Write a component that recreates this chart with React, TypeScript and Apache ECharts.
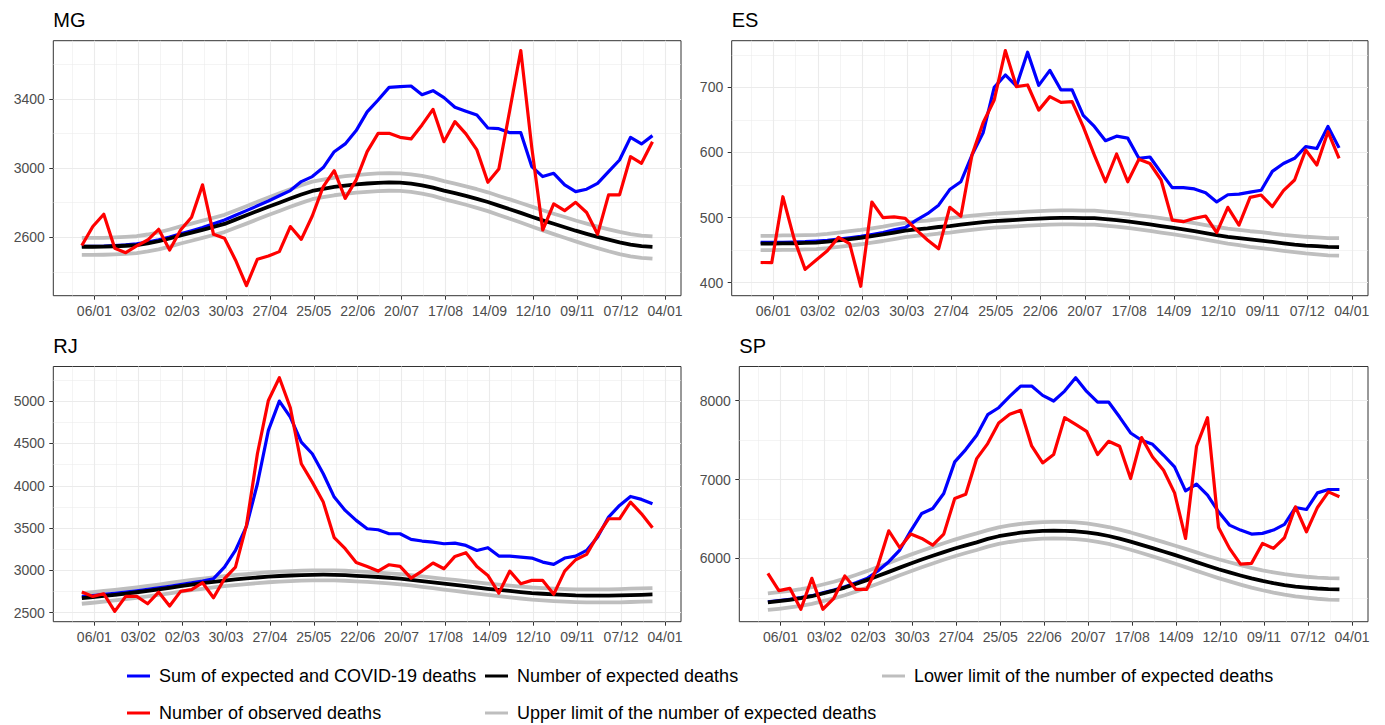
import React, { useEffect, useRef } from "react";
import * as echarts from "echarts";

// ---------- names ----------
const SUM = "Sum of expected and COVID-19 deaths";
const OBS = "Number of observed deaths";
const EXP = "Number of expected deaths";
const UP = "Upper limit of the number of expected deaths";
const LOW = "Lower limit of the number of expected deaths";

// ---------- x axis (days relative to 06/01/2020) ----------
// 53 epidemiological weeks starting 29/12/2019
const FIRST_WEEK_DAY = -8;
const N_WEEKS = 53;
const WEEK_DAYS = Array.from({ length: N_WEEKS }, (_, k) => FIRST_WEEK_DAY + 7 * k);
const X_TICK_LABELS = ["06/01", "03/02", "02/03", "30/03", "27/04", "25/05", "22/06", "20/07", "17/08", "14/09", "12/10", "09/11", "07/12", "04/01"];
const X_MAJOR = X_TICK_LABELS.map((_, i) => i * 28);
const X_MINOR = [-14, ...X_TICK_LABELS.slice(0, -1).map((_, i) => i * 28 + 14)];
const X_MIN = -26.2;
const X_MAX = 374.2;

// ---------- MG ----------
const MG_SUM = [2548, 2548, 2549, 2552, 2556, 2562, 2572, 2585, 2601, 2620, 2638, 2656, 2678, 2700, 2727, 2754, 2782, 2810, 2840, 2870,
  2922, 2951, 3003, 3095, 3140, 3217, 3325, 3394, 3467, 3471, 3475, 3425, 3448, 3408, 3352, 3329, 3307, 3232, 3228, 3205,
  3205, 3009, 2951, 2970, 2903, 2864, 2878, 2912, 2980, 3047, 3178, 3140, 3188];
const MG_OBS = [2552, 2662, 2733, 2536, 2511, 2550, 2584, 2646, 2526, 2642, 2716, 2903, 2617, 2594, 2469, 2320, 2473, 2492, 2517, 2662,
  2588, 2723, 2893, 2985, 2825, 2932, 3095, 3201, 3201, 3178, 3169, 3250, 3340, 3153, 3269, 3198, 3105, 2918, 2995, 3336,
  3680, 3120, 2642, 2793, 2754, 2802, 2743, 2617, 2845, 2845, 3066, 3028, 3153];
const MG_EXP = [2545, 2545, 2546, 2548, 2551, 2555, 2565, 2577, 2593, 2611, 2627, 2643, 2660, 2677, 2702, 2727, 2752, 2777, 2800, 2824,
  2847, 2868, 2880, 2891, 2899, 2906, 2911, 2915, 2917, 2916, 2910, 2900, 2887, 2870, 2855, 2839, 2822, 2804, 2783, 2762,
  2741, 2719, 2698, 2678, 2658, 2638, 2620, 2602, 2586, 2571, 2558, 2549, 2545];
const MG_UP = [2596, 2596, 2597, 2599, 2602, 2606, 2616, 2628, 2645, 2663, 2679, 2696, 2713, 2730, 2755, 2780, 2805, 2830, 2854, 2878,
  2901, 2922, 2934, 2945, 2953, 2960, 2965, 2969, 2971, 2970, 2964, 2955, 2942, 2925, 2910, 2894, 2878, 2860, 2839, 2819,
  2798, 2777, 2756, 2736, 2717, 2697, 2679, 2662, 2646, 2631, 2618, 2609, 2605];
const MG_LOW = [2498, 2498, 2499, 2501, 2504, 2508, 2518, 2530, 2546, 2564, 2580, 2596, 2613, 2630, 2655, 2679, 2704, 2729, 2752, 2776,
  2799, 2820, 2832, 2843, 2851, 2858, 2863, 2867, 2869, 2868, 2862, 2852, 2839, 2821, 2805, 2788, 2770, 2751, 2729, 2707,
  2685, 2662, 2640, 2618, 2597, 2576, 2556, 2537, 2519, 2503, 2490, 2481, 2477];

// ---------- ES ----------
const ES_SUM = [462, 462, 462, 462.5, 463, 464, 465, 467, 469, 471, 474, 477,
  481, 484.5, 496, 506, 519, 543, 555, 596, 630, 700,
  719, 702, 754, 703, 726, 696, 696, 657, 640, 618,
  625, 622, 591, 593, 569, 546, 546, 544, 538, 524,
  535, 536, 539, 542, 571, 583, 591, 609, 606, 640, 607];
const ES_OBS = [431, 430.7, 532, 468, 420.4, 434.8, 449, 469.6, 460, 394.5, 523.9, 500, 501, 498.8, 481, 465.5, 452, 515.7, 502, 596,
  645.7, 680.5, 756.3, 701, 703.6, 665, 685.7, 677, 678, 639.6, 596, 555, 597.6, 555, 589.4, 583, 557.7, 496, 493.7, 498.8,
  502.4, 476.8, 515.7, 488.5, 531, 534.6, 516.7, 541.3, 557.7, 603.7, 580.7, 631.9, 591];
const ES_EXP = [460, 460, 460.5, 460.5, 461, 461.5, 463, 465, 467, 469, 471.5, 474, 477, 480, 482, 483.5, 485.5, 487, 489, 491,
  493, 494.5, 495.5, 496.5, 497.5, 498.5, 499, 499.5, 499.5, 499, 499, 497.5, 496, 494, 492, 489.5, 487, 484.5, 482, 479,
  476, 473, 470.5, 468.5, 466.5, 464.5, 462.5, 460.5, 458.5, 457, 456, 455, 454.5];
const ES_UP = [472, 472, 472.5, 472.5, 473, 473.5, 475, 477, 479, 481, 483.5, 486, 489, 492, 494, 495.5, 497.5, 499, 501, 503,
  504.5, 506, 507, 508, 509, 510, 510.5, 511, 511, 510.5, 510.5, 509, 507.5, 505.5, 503.5, 501.5, 499, 496.5, 494, 491.5,
  488.5, 485.5, 483, 481, 479, 477.5, 475.5, 473.5, 472, 470.5, 469.5, 468.5, 468.5];
const ES_LOW = [450, 450, 450.5, 450.5, 451, 451.5, 453, 455, 457, 459, 461.5, 464, 467, 470, 472, 473.5, 475.5, 477, 479, 481,
  483, 484.5, 485.5, 486.5, 487.5, 488.5, 489, 489.5, 489.5, 489, 489, 487.5, 486, 484, 482, 479.5, 477, 474.5, 472, 469,
  466, 463, 460, 457.5, 455, 453, 451, 449, 447, 445, 443.5, 442, 441.5];

// ---------- RJ ----------
const RJ_SUM = [2690, 2702, 2716, 2730, 2745, 2760, 2776, 2794, 2812, 2832, 2852, 2875,
  2902, 3039, 3236, 3520, 4024, 4654, 5000, 4811, 4516, 4378,
  4142, 3866, 3709, 3591, 3492, 3480, 3433, 3433, 3366, 3347,
  3335, 3315, 3323, 3295, 3236, 3268, 3169, 3169, 3158, 3146,
  3098, 3071, 3146, 3169, 3236, 3394, 3630, 3768, 3874, 3839, 3787];
const RJ_OBS = [2744, 2693, 2724, 2516, 2693, 2693, 2606, 2744, 2579, 2752, 2772, 2854, 2677, 2902, 3039, 3531, 4378, 5008, 5276, 4921,
  4260, 4043, 3807, 3386, 3256, 3094, 3047, 2992, 3067, 3047, 2909, 2992, 3087, 3020, 3165, 3209, 3047, 2941, 2732, 2992,
  2843, 2882, 2882, 2717, 2992, 3126, 3189, 3413, 3610, 3610, 3807, 3669, 3504];
const RJ_EXP = [2672, 2684, 2698, 2712, 2727, 2742, 2758, 2776, 2795, 2814, 2832, 2849, 2865, 2880, 2893, 2905, 2916, 2926, 2934, 2940,
  2945, 2948, 2949, 2948, 2944, 2936, 2930, 2922, 2913, 2903, 2889, 2874, 2858, 2843, 2828, 2813, 2798, 2783, 2770, 2757,
  2744, 2732, 2724, 2716, 2710, 2705, 2703, 2702, 2702, 2704, 2708, 2712, 2716];
const RJ_UP = [2731, 2743, 2757, 2771, 2786, 2800, 2816, 2833, 2852, 2870, 2887, 2903, 2919, 2933, 2946, 2957, 2968, 2978, 2986, 2992,
  2997, 3000, 3001, 3000, 2996, 2988, 2982, 2975, 2966, 2957, 2944, 2930, 2915, 2901, 2887, 2873, 2859, 2845, 2833, 2821,
  2809, 2798, 2791, 2784, 2779, 2776, 2775, 2775, 2776, 2779, 2784, 2788, 2791];
const RJ_LOW = [2606, 2618, 2632, 2646, 2661, 2676, 2692, 2710, 2729, 2748, 2766, 2783, 2799, 2814, 2827, 2839, 2850, 2860, 2868, 2874,
  2879, 2882, 2883, 2882, 2878, 2870, 2864, 2855, 2846, 2836, 2822, 2806, 2790, 2774, 2758, 2742, 2726, 2710, 2696, 2682,
  2668, 2655, 2646, 2638, 2631, 2626, 2623, 2622, 2622, 2623, 2627, 2631, 2634];

// ---------- SP ----------
const SP_SUM = [5450, 5465, 5482, 5502, 5527, 5562, 5598, 5640, 5690, 5745, 5840, 5958,
  6106, 6350, 6570, 6633, 6823, 7224, 7380, 7561, 7823, 7911,
  8055, 8186, 8186, 8068, 7996, 8122, 8291, 8118, 7983, 7983,
  7793, 7591, 7498, 7447, 7308, 7160, 6857, 6941, 6802, 6591,
  6422, 6359, 6308, 6317, 6359, 6431, 6646, 6620, 6831, 6874, 6874];
const SP_OBS = [5810, 5591, 5620, 5355, 5747, 5355, 5494, 5777, 5608, 5608, 5903, 6350, 6135, 6308, 6253, 6169, 6308, 6760, 6814, 7266,
  7456, 7717, 7827, 7878, 7426, 7211, 7317, 7785, 7700, 7612, 7317, 7485, 7422, 7013, 7532, 7287, 7118, 6831, 6253, 7422,
  7785, 6393, 6127, 5928, 5937, 6190, 6127, 6262, 6654, 6338, 6646, 6844, 6781];
const SP_EXP = [5443, 5458, 5475, 5495, 5520, 5555, 5590, 5630, 5676, 5724, 5776, 5829, 5883, 5935, 5985, 6033, 6080, 6125, 6166, 6204,
  6247, 6281, 6306, 6326, 6340, 6349, 6352, 6350, 6344, 6331, 6310, 6284, 6250, 6213, 6172, 6130, 6087, 6044, 5998, 5952,
  5906, 5862, 5822, 5783, 5746, 5714, 5686, 5662, 5643, 5630, 5618, 5610, 5608];
const SP_UP = [5557, 5572, 5589, 5609, 5634, 5669, 5704, 5744, 5790, 5838, 5890, 5942, 5996, 6048, 6098, 6146, 6193, 6238, 6279, 6317,
  6359, 6393, 6418, 6438, 6452, 6461, 6464, 6462, 6456, 6444, 6423, 6398, 6365, 6329, 6289, 6248, 6206, 6164, 6120, 6076,
  6031, 5989, 5951, 5914, 5879, 5849, 5823, 5800, 5782, 5767, 5756, 5749, 5747];
const SP_LOW = [5346, 5361, 5378, 5398, 5423, 5458, 5493, 5533, 5579, 5627, 5679, 5731, 5785, 5837, 5887, 5935, 5982, 6027, 6068, 6106,
  6149, 6183, 6208, 6228, 6242, 6251, 6253, 6251, 6245, 6232, 6210, 6183, 6148, 6110, 6068, 6025, 5981, 5936, 5889, 5842,
  5795, 5750, 5708, 5668, 5630, 5596, 5566, 5540, 5519, 5503, 5488, 5477, 5473];

// ---------- y axes ----------
const MG_Y_MAJOR = [2600, 3000, 3400];
const MG_Y_MINOR = [2400, 2800, 3200, 3600];
const MG_Y_RANGE = [2262, 3737];
const ES_Y_MAJOR = [400, 500, 600, 700];
const ES_Y_MINOR = [450, 550, 650, 750];
const ES_Y_RANGE = [380, 771.6];
const RJ_Y_MAJOR = [2500, 3000, 3500, 4000, 4500, 5000];
const RJ_Y_MINOR = [2750, 3250, 3750, 4250, 4750, 5250];
const RJ_Y_RANGE = [2394, 5409];
const SP_Y_MAJOR = [6000, 7000, 8000];
const SP_Y_MINOR = [5500, 6500, 7500];
const SP_Y_RANGE = [5197, 8434];

const FONT = "'Liberation Sans', Arial, Helvetica, sans-serif";
const COLORS: Record<string, string> = {
  [SUM]: "#0000FF",
  [OBS]: "#FF0000",
  [EXP]: "#000000",
  [UP]: "#BEBEBE",
  [LOW]: "#BEBEBE",
};

const PANELS = [
  { title: "MG", sum: MG_SUM, obs: MG_OBS, exp: MG_EXP, up: MG_UP, low: MG_LOW, yMajor: MG_Y_MAJOR, yMinor: MG_Y_MINOR, yRange: MG_Y_RANGE,
    grid: { left: 53.3, top: 40.7, width: 627.7, height: 255 }, titlePos: [53.3, 19.5] },
  { title: "ES", sum: ES_SUM, obs: ES_OBS, exp: ES_EXP, up: ES_UP, low: ES_LOW, yMajor: ES_Y_MAJOR, yMinor: ES_Y_MINOR, yRange: ES_Y_RANGE,
    grid: { left: 731.7, top: 40.7, width: 636.3, height: 255 }, titlePos: [731.7, 19.5] },
  { title: "RJ", sum: RJ_SUM, obs: RJ_OBS, exp: RJ_EXP, up: RJ_UP, low: RJ_LOW, yMajor: RJ_Y_MAJOR, yMinor: RJ_Y_MINOR, yRange: RJ_Y_RANGE,
    grid: { left: 53.3, top: 366.5, width: 627.7, height: 255.2 }, titlePos: [53.3, 346.3] },
  { title: "SP", sum: SP_SUM, obs: SP_OBS, exp: SP_EXP, up: SP_UP, low: SP_LOW, yMajor: SP_Y_MAJOR, yMinor: SP_Y_MINOR, yRange: SP_Y_RANGE,
    grid: { left: 739.3, top: 366.5, width: 628.7, height: 255.2 }, titlePos: [739.3, 346.3] },
];

const LEGEND_ITEMS = [
  { name: SUM, left: 127, cy: 676 },
  { name: OBS, left: 127, cy: 713 },
  { name: EXP, left: 485, cy: 676 },
  { name: UP, left: 485, cy: 713 },
  { name: LOW, left: 882, cy: 676 },
];

function buildOption() {
  const grid: any[] = [];
  const xAxis: any[] = [];
  const yAxis: any[] = [];
  const series: any[] = [];
  const graphic: any[] = [];

  PANELS.forEach((p, i) => {
    grid.push({ ...p.grid, show: true, borderColor: "#333333", borderWidth: 1, backgroundColor: "transparent", containLabel: false, outerBoundsMode: "none" });
    // major x
    xAxis.push({
      type: "value", gridIndex: i, min: X_MIN, max: X_MAX, position: "bottom",
      axisLine: { show: false, onZero: false },
      axisTick: { show: true, length: 4, lineStyle: { color: "#333333", width: 1 }, customValues: X_MAJOR },
      axisLabel: { show: true, customValues: X_MAJOR, color: "#4D4D4D", fontSize: 14, fontFamily: FONT, margin: 8,
        formatter: (v: number) => X_TICK_LABELS[Math.round(v / 28)] ?? "" },
      splitLine: { show: true, lineStyle: { color: "#EBEBEB", width: 1.1 } },
    });
    // minor x
    xAxis.push({
      type: "value", gridIndex: i, min: X_MIN, max: X_MAX, position: "top",
      axisLine: { show: false, onZero: false },
      axisTick: { show: false, customValues: X_MINOR },
      axisLabel: { show: false, customValues: X_MINOR },
      splitLine: { show: true, lineStyle: { color: "#EBEBEB", width: 0.55 } },
    });
    // major y
    yAxis.push({
      type: "value", gridIndex: i, min: p.yRange[0], max: p.yRange[1], position: "left",
      axisLine: { show: false, onZero: false },
      axisTick: { show: true, length: 4, lineStyle: { color: "#333333", width: 1 }, customValues: p.yMajor },
      axisLabel: { show: true, customValues: p.yMajor, color: "#4D4D4D", fontSize: 14, fontFamily: FONT, margin: 8.5,
        formatter: (v: number) => String(v) },
      splitLine: { show: true, lineStyle: { color: "#EBEBEB", width: 1.1 } },
    });
    // minor y
    yAxis.push({
      type: "value", gridIndex: i, min: p.yRange[0], max: p.yRange[1], position: "right",
      axisLine: { show: false, onZero: false },
      axisTick: { show: false, customValues: p.yMinor },
      axisLabel: { show: false, customValues: p.yMinor },
      splitLine: { show: true, lineStyle: { color: "#EBEBEB", width: 0.55 } },
    });

    const lines: [string, number[], number][] = [
      [UP, p.up, 3.8],
      [LOW, p.low, 3.8],
      [SUM, p.sum, 3.2],
      [EXP, p.exp, 3.8],
      [OBS, p.obs, 3.2],
    ];
    lines.forEach(([name, vals, w]) => {
      series.push({
        type: "line", name, xAxisIndex: 2 * i, yAxisIndex: 2 * i,
        data: vals.map((v, k) => [WEEK_DAYS[k], v]),
        showSymbol: false, symbol: "none", silent: true, clip: true,
        color: COLORS[name],
        lineStyle: { color: COLORS[name], width: w, join: "round", cap: "butt" },
      });
    });

    graphic.push({
      type: "text", x: p.titlePos[0], y: p.titlePos[1], silent: true,
      style: { text: p.title, fontSize: 20, fontFamily: FONT, fill: "#000000", align: "left", verticalAlign: "middle" },
    });
  });

  const legend = LEGEND_ITEMS.map((it) => ({
    show: true, data: [it.name], left: it.left, top: it.cy - 10, orient: "horizontal",
    icon: "rect", itemWidth: 23, itemHeight: 3, selectedMode: false, padding: 0,
    textStyle: { fontSize: 18, fontFamily: FONT, color: "#000000", lineHeight: 20, padding: [0, 0, 0, 4] },
  }));

  return { animation: false, backgroundColor: "#FFFFFF", grid, xAxis, yAxis, series, legend, graphic };
}

export default function App() {
  const ref = useRef<HTMLDivElement>(null);
  useEffect(() => {
    document.body.style.margin = "0";
    if (!ref.current) return;
    const chart = echarts.init(ref.current, null, { renderer: "svg" });
    chart.setOption(buildOption() as any);
    return () => chart.dispose();
  }, []);
  return <div ref={ref} style={{ width: 1385, height: 725 }} />;
}
